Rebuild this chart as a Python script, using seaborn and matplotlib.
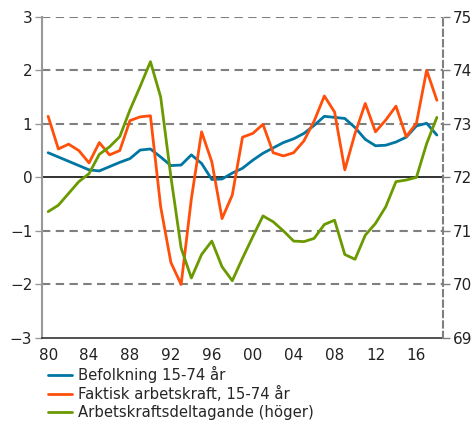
import numpy as np
import pandas as pd
import seaborn as sns
import matplotlib.pyplot as plt

ar = list(range(1980, 2019))

befolkning = [0.46, 0.38, 0.30, 0.22, 0.14, 0.12, 0.20, 0.28, 0.35, 0.51,
              0.53, 0.38, 0.22, 0.23, 0.42, 0.26, -0.04, -0.03, 0.08, 0.17,
              0.32, 0.45, 0.55, 0.65, 0.72, 0.82, 0.97, 1.14, 1.12, 1.10,
              0.93, 0.71, 0.59, 0.60, 0.66, 0.75, 0.96, 1.01, 0.79]

arbetskraft = [1.14, 0.53, 0.62, 0.50, 0.27, 0.65, 0.42, 0.50, 1.06, 1.13,
               1.15, -0.55, -1.59, -2.00, -0.40, 0.85, 0.29, -0.77, -0.33, 0.75,
               0.82, 0.99, 0.46, 0.40, 0.46, 0.68, 1.05, 1.52, 1.22, 0.14,
               0.82, 1.38, 0.85, 1.07, 1.33, 0.76, 1.01, 2.00, 1.44]

deltagande = [71.36, 71.48, 71.70, 71.92, 72.07, 72.43, 72.57, 72.76, 73.26, 73.70,
              74.16, 73.50, 72.01, 70.68, 70.12, 70.56, 70.81, 70.33, 70.07, 70.49,
              70.89, 71.28, 71.17, 71.00, 70.81, 70.80, 70.86, 71.12, 71.20, 70.56,
              70.47, 70.92, 71.14, 71.45, 71.92, 71.95, 72.00, 72.63, 73.12]

df = pd.DataFrame({'ar': ar, 'befolkning': befolkning,
                   'arbetskraft': arbetskraft, 'deltagande': deltagande})

sns.set_style('white')
plt.rcParams['font.family'] = ['DejaVu Sans']

blue = '#0076a3'
orange = '#ff4f0a'
green = '#6a9a00'
gridc = '#7f7f7f'

fig = plt.figure(figsize=(4.73, 4.24), dpi=100)
ax = fig.add_axes([0.0888, 0.2028, 0.8478, 0.7578])
ax2 = ax.twinx()

# rutnat och nollinje
for y in [-2, -1, 1, 2, 3]:
    ax.axhline(y, color=gridc, linestyle=(0, (4, 2.6)), linewidth=1.5, zorder=0)
ax.axhline(0, color='#222222', linewidth=1.3, zorder=1)

sns.lineplot(data=df, x='ar', y='befolkning', ax=ax, color=blue, linewidth=2.0,
             label='Befolkning 15-74 år', legend=False, zorder=3)
sns.lineplot(data=df, x='ar', y='arbetskraft', ax=ax, color=orange, linewidth=2.0,
             label='Faktisk arbetskraft, 15-74 år', legend=False, zorder=3)
sns.lineplot(data=df, x='ar', y='deltagande', ax=ax2, color=green, linewidth=2.0,
             label='Arbetskraftsdeltagande (höger)', legend=False, zorder=3)

ax.set_xlim(1979.4, 2018.6)
ax.set_ylim(-3, 3)
ax2.set_ylim(69, 75)
ax.set_yticks(range(-3, 4))
ax2.set_yticks(range(69, 76))
ax.set_xticks(range(1980, 2017, 4))
ax.set_xticklabels(['%02d' % (y % 100) for y in range(1980, 2017, 4)])
ax.set_xticks(range(1980, 2019), minor=True)
ax.set_xlabel('')
ax.set_ylabel('')
ax2.set_ylabel('')

for a in (ax, ax2):
    a.tick_params(axis='both', which='both', direction='out', length=5,
                  width=1, color='#333333', labelsize=11, pad=2,
                  labelcolor='#222222')
    a.spines['top'].set_visible(False)
ax.tick_params(axis='x', which='minor', length=5)
ax.spines['left'].set_color('#999999')
ax.spines['left'].set_linewidth(1.5)
ax.spines['right'].set_visible(False)
ax2.spines['left'].set_visible(False)
ax2.spines['bottom'].set_visible(False)
ax2.spines['right'].set_color(gridc)
ax2.spines['right'].set_linestyle((0, (3, 2)))
ax2.spines['right'].set_linewidth(1.5)
ax.spines['bottom'].set_color('#333333')
ax.spines['bottom'].set_linewidth(1.2)
ax.tick_params(axis='y', colors='#999999', labelcolor='#222222')
ax2.tick_params(axis='y', colors=gridc, labelcolor='#222222')

h1, l1 = ax.get_legend_handles_labels()
h2, l2 = ax2.get_legend_handles_labels()
fig.legend(h1 + h2, l1 + l2, loc='upper left', bbox_to_anchor=(0.102, 0.137),
           frameon=False, fontsize=10.7, handlelength=1.62, handletextpad=0.4,
           labelspacing=0.2, borderaxespad=0, borderpad=0)

fig.savefig('out.png', dpi=100)
